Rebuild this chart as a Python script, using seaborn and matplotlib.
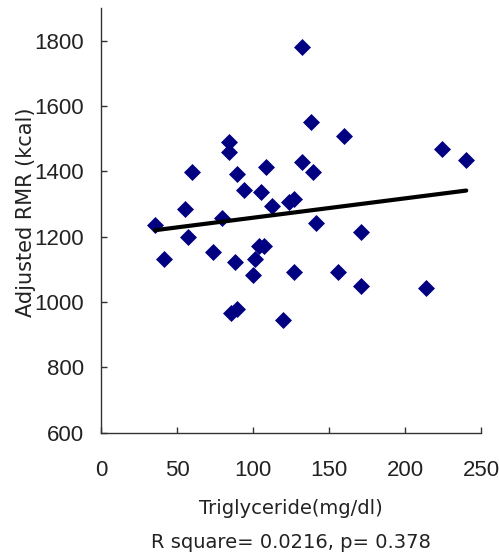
import numpy as np
import pandas as pd
import matplotlib
matplotlib.use("Agg")
import matplotlib.pyplot as plt
import seaborn as sns

# values
triglyceride = [35.5, 41.7, 55.3, 57.5, 60.1, 73.7, 79.5, 84.4, 84.4, 85.7,
                88.0, 89.3, 89.3, 94.1, 100.2, 101.5, 103.7, 105.1, 107.5, 108.6,
                112.4, 119.7, 123.4, 127.3, 127.0, 132.0, 132.0, 138.0, 139.3, 141.4,
                156.0, 160.0, 170.8, 170.8, 213.6, 224.5, 240.3]
rmr = [1234, 1131, 1283, 1200, 1398, 1152, 1258, 1491, 1458, 965,
       1123, 1393, 979, 1343, 1083, 1131, 1172, 1337, 1172, 1413,
       1295, 946, 1305, 1316, 1090, 1428, 1779, 1551, 1399, 1241,
       1091, 1509, 1213, 1049, 1041, 1469, 1435]

x_ticks = [0, 50, 100, 150, 200, 250]
y_ticks = [600, 800, 1000, 1200, 1400, 1600, 1800]

sns.set_theme(style="white")
plt.rcParams["font.family"] = ["DejaVu Sans"]
plt.rcParams["xtick.direction"] = "in"
plt.rcParams["ytick.direction"] = "in"
plt.rcParams["xtick.bottom"] = True
plt.rcParams["ytick.left"] = True
tick_font = ["Liberation Sans Narrow", "Liberation Sans", "DejaVu Sans"]

df = pd.DataFrame({"tg": triglyceride, "rmr": rmr})

fig = plt.figure(figsize=(4.99, 5.55), dpi=100)
ax = fig.add_axes([0.2024, 0.2207, 0.7615, 0.765])

sns.regplot(
    data=df,
    x="tg",
    y="rmr",
    ci=None,
    marker="D",
    scatter_kws={"color": "#000080", "s": 75, "linewidths": 0, "alpha": 1},
    line_kws={"color": "black", "linewidth": 3},
    ax=ax,
)

ax.set_xlim(0, 250)
ax.set_ylim(600, 1900)
ax.set_xticks(x_ticks)
ax.set_yticks(y_ticks)
ax.tick_params(axis="both", direction="in", length=4.5, width=1, color="#333333",
               bottom=True, left=True, labelsize=16, labelcolor="#222222")
ax.tick_params(axis="x", pad=20)
ax.tick_params(axis="y", pad=12)
for lbl in ax.get_xticklabels() + ax.get_yticklabels():
    lbl.set_family(tick_font)
for side in ["top", "right"]:
    ax.spines[side].set_visible(False)
for side in ["left", "bottom"]:
    ax.spines[side].set_color("#333333")
    ax.spines[side].set_linewidth(1)

ax.set_xlabel("Triglyceride(mg/dl)\nR square= 0.0216, p= 0.378",
              fontsize=14, color="#222222", labelpad=13, linespacing=2.0)
ax.set_ylabel("Adjusted RMR (kcal)", fontsize=15, color="#222222")
ax.yaxis.set_label_coords(-0.17, 0.519)

fig.savefig("out.png", dpi=100)
